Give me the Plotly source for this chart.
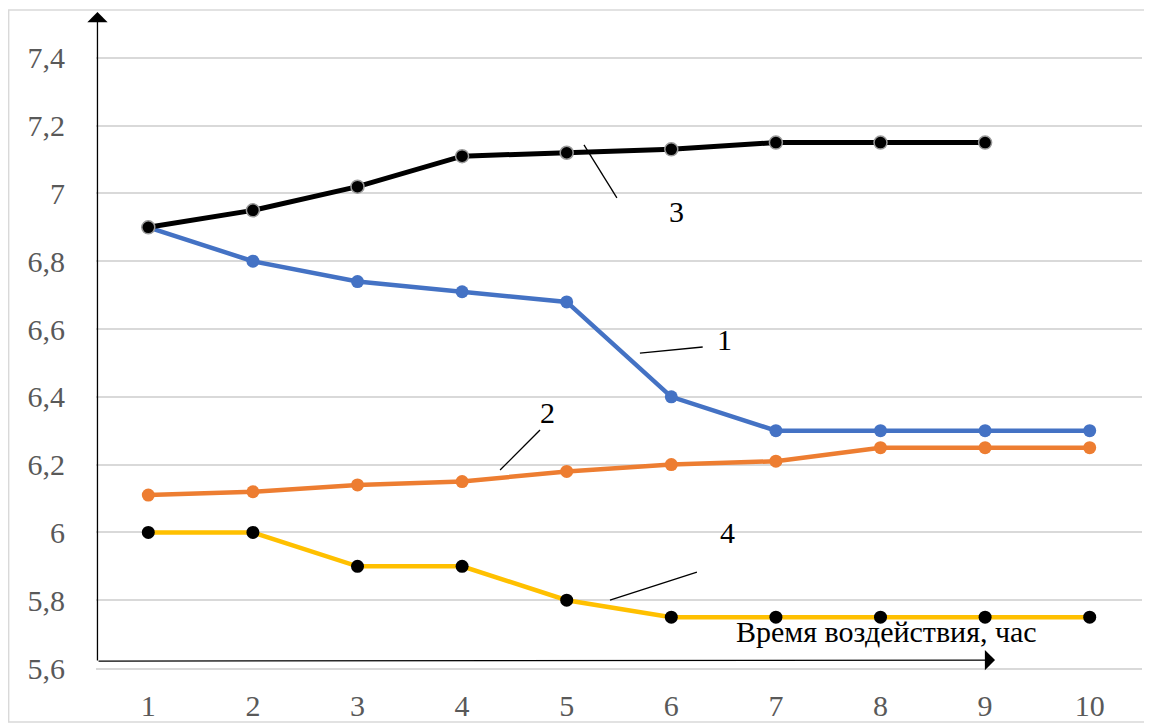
import plotly.graph_objects as go

hours = [1, 2, 3, 4, 5, 6, 7, 8, 9, 10]
series1 = [6.9, 6.8, 6.74, 6.71, 6.68, 6.4, 6.3, 6.3, 6.3, 6.3]
series2 = [6.11, 6.12, 6.14, 6.15, 6.18, 6.2, 6.21, 6.25, 6.25, 6.25]
hours3 = [1, 2, 3, 4, 5, 6, 7, 8, 9]
series3 = [6.9, 6.95, 7.02, 7.11, 7.12, 7.13, 7.15, 7.15, 7.15]
series4 = [6.0, 6.0, 5.9, 5.9, 5.8, 5.75, 5.75, 5.75, 5.75, 5.75]
y_ticks = [5.6, 5.8, 6.0, 6.2, 6.4, 6.6, 6.8, 7.0, 7.2, 7.4]
y_tick_text = ["5,6", "5,8", "6", "6,2", "6,4", "6,6", "6,8", "7", "7,2", "7,4"]
x_title = "Время воздействия, час"

FONT = "Liberation Serif, Times New Roman, serif"
fig = go.Figure()

fig.add_trace(go.Scatter(x=hours, y=series1, mode="lines+markers",
                         line=dict(color="#4472C4", width=4.5),
                         marker=dict(color="#4472C4", size=13)))
fig.add_trace(go.Scatter(x=hours, y=series2, mode="lines+markers",
                         line=dict(color="#ED7D31", width=4.5),
                         marker=dict(color="#ED7D31", size=13)))
fig.add_trace(go.Scatter(x=hours3, y=series3, mode="lines+markers",
                         line=dict(color="#000000", width=5),
                         marker=dict(color="#000000", size=13,
                                     line=dict(color="#9a9a9a", width=1.5))))
fig.add_trace(go.Scatter(x=hours, y=series4, mode="lines+markers",
                         line=dict(color="#FFC000", width=4.5),
                         marker=dict(color="#000000", size=13)))

# leader lines and curve labels
leaders = [
    (5.70, 6.529, 6.30, 6.547, 6.51, 6.568, "1"),
    (4.363, 6.184, 4.745, 6.302, 4.82, 6.355, "2"),
    (5.165, 7.143, 5.48, 6.987, 6.054, 6.946, "3"),
    (5.414, 5.80, 6.245, 5.883, 6.54, 6.0, "4"),
]
for x0, y0, x1, y1, tx, ty, lab in leaders:
    fig.add_shape(type="line", x0=x0, y0=y0, x1=x1, y1=y1, xref="x", yref="y",
                  line=dict(color="black", width=1.3))
    fig.add_annotation(x=tx, y=ty, xref="x", yref="y", text=lab, showarrow=False,
                       font=dict(family=FONT, size=30, color="black"))

fig.add_annotation(x=8.06, y=5.708, xref="x", yref="y", text=x_title, showarrow=False,
                   font=dict(family=FONT, size=30, color="black"))

# drawn axis arrows
fig.add_annotation(x=0.0014, y=0.9939, xref="paper", yref="paper", text="",
                   showarrow=True, arrowhead=1, arrowsize=2.6, arrowwidth=1.3,
                   arrowcolor="black", ax=0, ay=650, axref="pixel", ayref="pixel")
fig.add_annotation(x=0.8595, y=0.012, xref="paper", yref="paper", text="",
                   showarrow=True, arrowhead=1, arrowsize=2.6, arrowwidth=1.3,
                   arrowcolor="black", ax=-898, ay=1, axref="pixel", ayref="pixel")

# outer border
fig.add_shape(type="rect", xref="paper", yref="paper",
              x0=-0.0835, x1=1.0048, y0=-0.0818, y1=0.997,
              line=dict(color="#D9D9D9", width=1.5), fillcolor="rgba(0,0,0,0)",
              layer="below")

fig.update_layout(
    width=1152, height=725,
    margin=dict(l=88, r=18, t=0, b=65),
    paper_bgcolor="white", plot_bgcolor="white",
    showlegend=False,
    font=dict(family=FONT, size=30, color="#595959"),
)
fig.update_xaxes(range=[0.5, 10.5], tickvals=hours, ticktext=[str(h) for h in hours],
                 showgrid=False, zeroline=False, showline=True, linecolor="#D9D9D9",
                 linewidth=1.5, ticks="outside", ticklen=10, tickcolor="rgba(0,0,0,0)",
                 tickfont=dict(family=FONT, size=30, color="#595959"))
fig.update_yaxes(range=[5.6, 7.547], tickvals=y_ticks, ticktext=y_tick_text,
                 showgrid=True, gridcolor="#D9D9D9", gridwidth=1.5, zeroline=False,
                 showline=False, ticks="outside", ticklen=24, tickcolor="rgba(0,0,0,0)",
                 tickfont=dict(family=FONT, size=30, color="#595959"))

fig.write_html("out.html")
